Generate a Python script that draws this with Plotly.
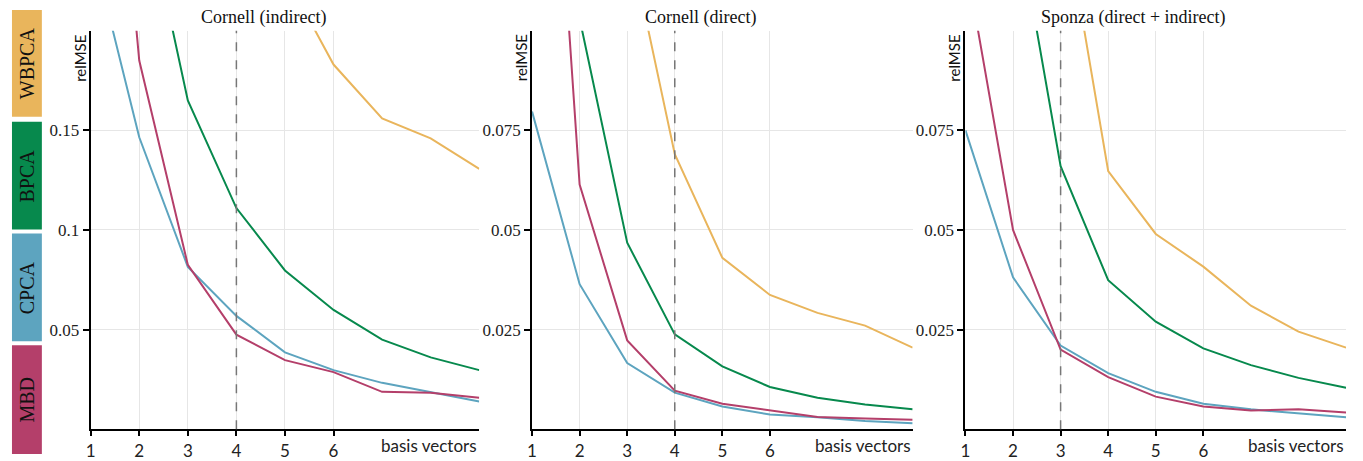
import plotly.graph_objects as go

W, H = 1363, 461

x_vals = [1, 2, 3, 4, 5, 6, 7, 8, 9]
panel_titles = ["Cornell (indirect)", "Cornell (direct)", "Sponza (direct + indirect)"]
method_names = ["WBPCA", "BPCA", "CPCA", "MBD"]
method_colors = ["#E9B55C", "#07894D", "#5DA4BF", "#B43F6A"]

# Cornell (indirect)
p1_wbpca = [0.70, 0.50, 0.38, 0.29, 0.228, 0.183, 0.156, 0.146, 0.1307]
p1_bpca = [0.40, 0.278, 0.165, 0.111, 0.0797, 0.0599, 0.045, 0.0361, 0.0297]
p1_cpca = [0.245, 0.1465, 0.0815, 0.0569, 0.0386, 0.0297, 0.0233, 0.0185, 0.0139]
p1_mbd = [0.45, 0.185, 0.0825, 0.0475, 0.0347, 0.0287, 0.0188, 0.0183, 0.0158]

# Cornell (direct)
p2_wbpca = [0.30, 0.20, 0.125, 0.069, 0.043, 0.0337, 0.0292, 0.026, 0.0205]
p2_bpca = [0.20, 0.103, 0.0468, 0.0238, 0.0158, 0.0106, 0.0079, 0.0062, 0.0050]
p2_cpca = [0.0797, 0.0364, 0.0166, 0.0092, 0.0057, 0.0037, 0.0030, 0.0021, 0.0015]
p2_mbd = [0.237, 0.0614, 0.0223, 0.0097, 0.0064, 0.0047, 0.0031, 0.0027, 0.0024]

# Sponza (direct + indirect)
p3_wbpca = [0.30, 0.20, 0.135, 0.0648, 0.049, 0.0408, 0.031, 0.0245, 0.0205]
p3_bpca = [0.20, 0.134, 0.066, 0.0374, 0.027, 0.0203, 0.0161, 0.0129, 0.0104]
p3_cpca = [0.075, 0.0381, 0.021, 0.0141, 0.0094, 0.0064, 0.0050, 0.0040, 0.0030]
p3_mbd = [0.118, 0.050, 0.020, 0.0131, 0.0082, 0.0057, 0.0047, 0.0050, 0.0042]

panels = [
    [p1_wbpca, p1_bpca, p1_cpca, p1_mbd],
    [p2_wbpca, p2_bpca, p2_cpca, p2_mbd],
    [p3_wbpca, p3_bpca, p3_cpca, p3_mbd],
]
y_ranges = [[0, 0.2], [0, 0.1], [0, 0.1]]
y_tickvals = [[0.05, 0.1, 0.15], [0.025, 0.05, 0.075], [0.025, 0.05, 0.075]]
y_ticktext = [["0.05", "0.1", "0.15"], ["0.025", "0.05", "0.075"], ["0.025", "0.05", "0.075"]]
x_tickvals = [1, 2, 3, 4, 5, 6]
x_ticktext = ["1", "2", "3", "4", "5", "6"]
chosen_k = [4, 4, 3]

# pixel layout of plot areas
px_left = [86, 529, 964]
px_right = [476, 911, 1346]
px_top, px_bottom = 31, 434

SERIF = "Liberation Serif"
SANS = "Lato"

fig = go.Figure()
layout = dict(
    width=W, height=H, margin=dict(l=0, r=0, t=0, b=0),
    paper_bgcolor="white", plot_bgcolor="white", showlegend=False,
    shapes=[], annotations=[],
)

for i in range(3):
    xa = "x" if i == 0 else f"x{i+1}"
    ya = "y" if i == 0 else f"y{i+1}"
    xkey = "xaxis" if i == 0 else f"xaxis{i+1}"
    ykey = "yaxis" if i == 0 else f"yaxis{i+1}"
    for s, series in enumerate(panels[i]):
        fig.add_trace(go.Scatter(
            x=x_vals, y=series, mode="lines", xaxis=xa, yaxis=ya,
            line=dict(color=method_colors[s], width=2),
            name=method_names[s], hoverinfo="skip",
        ))
    layout[xkey] = dict(
        domain=[px_left[i] / W, px_right[i] / W], anchor=ya,
        range=[1, 9], tickvals=x_tickvals, ticktext=x_ticktext,
        showgrid=True, gridcolor="#e6e6e6", gridwidth=1,
        showline=True, linecolor="black", linewidth=2,
        ticks="outside", ticklen=5, tickwidth=1.5, tickcolor="black",
        tickfont=dict(family=SANS, size=17, color="#222"),
        zeroline=False, fixedrange=True,
    )
    layout[ykey] = dict(
        domain=[1 - px_bottom / H, 1 - px_top / H], anchor=xa,
        range=y_ranges[i], tickvals=y_tickvals[i], ticktext=y_ticktext[i],
        showgrid=True, gridcolor="#e6e6e6", gridwidth=1,
        showline=True, linecolor="black", linewidth=2,
        ticks="outside", ticklen=6, tickwidth=1.5, tickcolor="black",
        tickfont=dict(family=SERIF, size=17, color="#222"),
        zeroline=False, fixedrange=True,
    )
    # dashed marker for chosen number of basis vectors
    layout["shapes"].append(dict(
        type="line", xref=xa, yref=f"{ya} domain", x0=chosen_k[i], x1=chosen_k[i],
        y0=0, y1=1, line=dict(color="#777777", width=1.5, dash="dash"),
    ))
    # subplot title
    layout["annotations"].append(dict(
        text=panel_titles[i], xref="paper", yref="paper",
        x=(px_left[i] + px_right[i]) / 2 / W - 22 / W, y=1 - 18 / H,
        xanchor="center", yanchor="middle", showarrow=False,
        font=dict(family=SERIF, size=18, color="#111"),
    ))
    # y title
    layout["annotations"].append(dict(
        text="relMSE", xref="paper", yref="paper", textangle=-90,
        x=(px_left[i] - 11) / W, y=1 - 33 / H,
        xanchor="center", yanchor="top", showarrow=False,
        font=dict(family=SANS, size=15, color="#111"),
    ))
    # x title
    layout["annotations"].append(dict(
        text="basis vectors", xref="paper", yref="paper",
        x=px_right[i] / W, y=1 - 450 / H,
        xanchor="right", yanchor="middle", showarrow=False,
        font=dict(family=SANS, size=17, color="#222"),
    ))

# left legend strip
box_y = [(10, 118), (123, 232), (236, 345), (349, 459)]
for k, (t, b) in enumerate(box_y):
    layout["shapes"].append(dict(
        type="rect", xref="paper", yref="paper",
        x0=7 / W, x1=37 / W, y0=1 - b / H, y1=1 - t / H,
        fillcolor=method_colors[k], line=dict(width=0), layer="above",
    ))
    layout["annotations"].append(dict(
        text=method_names[k], xref="paper", yref="paper", textangle=-90,
        x=22 / W, y=1 - (t + b) / 2 / H, xanchor="center", yanchor="middle",
        showarrow=False, font=dict(family=SERIF, size=20, color="#111"),
    ))

fig.update_layout(**layout)
fig.write_html(
    "out.html",
    config={"displayModeBar": False},
    post_script="document.body.style.margin='0';document.body.style.padding='0';"
                "document.body.style.overflow='hidden';",
)
